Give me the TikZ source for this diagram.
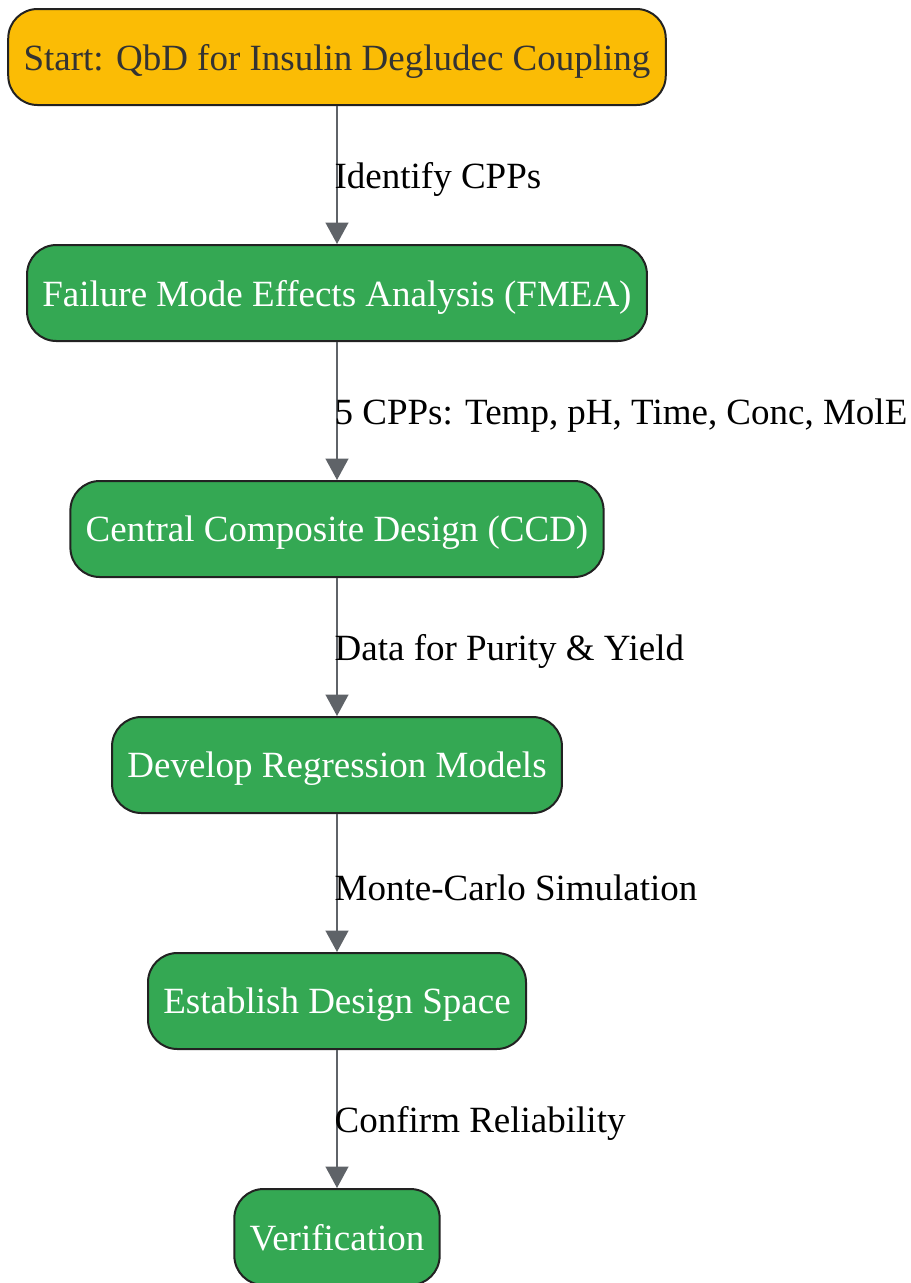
\documentclass[tikz,border=0pt]{standalone}
\usepackage{fontspec}
\setmainfont{Liberation Serif}
\usepackage{xcolor}
\usepackage{tikz}
\usetikzlibrary{arrows.meta}
\definecolor{startyellow}{HTML}{FBBC05}
\definecolor{stepgreen}{HTML}{34A853}
\definecolor{linegray}{HTML}{5F6368}
\definecolor{boxborder}{HTML}{222222}

\begin{document}
\begin{tikzpicture}[x=0.75pt,y=-0.75pt,
        box/.style={draw=boxborder,line width=1.5pt,rounded corners=22pt,
            minimum height=72pt,inner xsep=11.5pt,text depth=0pt,font=\fontsize{27.75}{32}\selectfont},
        startbox/.style={box,fill=startyellow,text=black!80},
        stepbox/.style={box,fill=stepgreen,text=white},
        flow/.style={draw=linegray,line width=1.5pt,-{Triangle[length=16pt,width=17pt]}},
        flowlabel/.style={anchor=west,inner sep=0pt,xshift=-2.5pt,yshift=-3.5pt,font=\fontsize{27.75}{32}\selectfont}]
                \useasboundingbox (0,0) rectangle (911,1283);
                \node[startbox] (start) at (337,57) {Start: QbD for Insulin Degludec Coupling};
                \node[stepbox] (fmea) at (337,293) {Failure Mode Effects Analysis (FMEA)};
                \node[stepbox] (ccd) at (337,529) {Central Composite Design (CCD)};
                \node[stepbox] (models) at (337,765) {Develop Regression Models};
                \node[stepbox] (space) at (337,1001) {Establish Design Space};
                \node[stepbox] (verify) at (337,1237) {Verification};
                \draw[flow] (start) -- node[flowlabel] {Identify CPPs} (fmea);
                \draw[flow] (fmea) -- node[flowlabel] {5 CPPs: Temp, pH, Time, Conc, MolE} (ccd);
                \draw[flow] (ccd) -- node[flowlabel] {Data for Purity \& Yield} (models);
                \draw[flow] (models) -- node[flowlabel] {Monte-Carlo Simulation} (space);
                \draw[flow] (space) -- node[flowlabel] {Confirm Reliability} (verify);
            \end{tikzpicture}
\end{document}
